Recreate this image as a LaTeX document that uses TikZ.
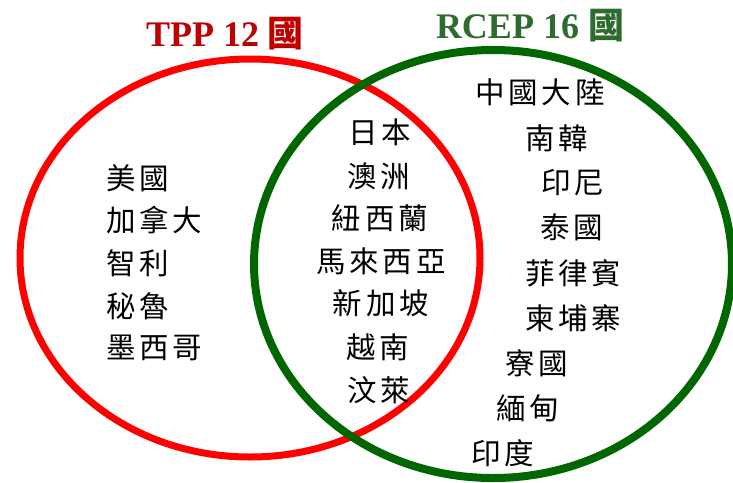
\documentclass[tikz,border=0pt]{standalone}
\usepackage{fontspec}
\setmainfont{Liberation Serif}
\newfontfamily\cjk[LetterSpace=13]{Noto Sans CJK TC}
\newfontfamily\cjkb{Noto Sans CJK TC}
\definecolor{tppred}{HTML}{C00000}
\definecolor{rcepgreen}{HTML}{2E6B2E}
\definecolor{ringred}{HTML}{FF0000}
\definecolor{ringgreen}{HTML}{006600}
\begin{document}
\begin{tikzpicture}[x=1pt,y=-1pt,
  cn/.style={inner sep=0pt,font=\cjk\fontsize{29.5}{29.5}\selectfont,anchor=west},
  cnc/.style={cn,anchor=center},
  title/.style={inner sep=0pt,font=\bfseries\fontsize{36}{36}\selectfont}]
\useasboundingbox (0,0) rectangle (733,482);
\draw[ringred,line width=7pt] (250,258) ellipse [x radius=230,y radius=199];
\draw[ringgreen,line width=8pt] (493,264) ellipse [x radius=239,y radius=214];
\node[title,text=tppred] (tpp) at (225,34) {TPP 12 {\cjkb\bfseries 國}};
\node[title,text=rcepgreen] (rcep) at (530,26) {RCEP 16 {\cjkb\bfseries 國}};
% TPP only
\node[cn] (us) at (106,178) {美國};
\node[cn] (ca) at (106,220) {加拿大};
\node[cn] (cl) at (106,263) {智利};
\node[cn] (pe) at (106,306) {秘魯};
\node[cn] (mx) at (106,348) {墨西哥};
% both
\node[cnc] (jp) at (380,132) {日本};
\node[cnc] (au) at (379,176) {澳洲};
\node[cnc] (nz) at (380,218) {紐西蘭};
\node[cnc] (my) at (381,261) {馬來西亞};
\node[cnc] (sg) at (381,303) {新加坡};
\node[cnc] (vn) at (378,347) {越南};
\node[cnc] (bn) at (379,390) {汶萊};
% RCEP only
\node[cn] (cn) at (475,92) {中國大陸};
\node[cn] (kr) at (525,138) {南韓};
\node[cn] (id) at (541,183) {印尼};
\node[cn] (th) at (540,227) {泰國};
\node[cn] (ph) at (525,273) {菲律賓};
\node[cn] (kh) at (525,318) {柬埔寨};
\node[cn] (la) at (505,363) {寮國};
\node[cn] (mm) at (496,408) {緬甸};
\node[cn] (in) at (471,453) {印度};
\end{tikzpicture}
\end{document}
